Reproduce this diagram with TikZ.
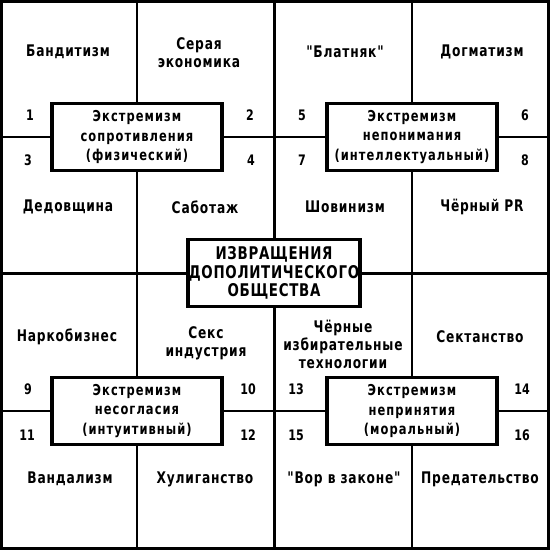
\documentclass[tikz,border=0pt]{standalone}
\usepackage{fontspec}
\newfontfamily\grot{DejaVu Sans Condensed}[FakeStretch=0.85]
\usetikzlibrary{positioning}

\begin{document}
\begin{tikzpicture}[x=1pt, y=-1pt,
  frame/.style={line width=3pt},
  thinline/.style={line width=1.7pt},
  ext/.style={draw, line width=3.5pt, fill=white, minimum width=170pt, minimum height=67pt, align=center, inner sep=1pt, font=\grot\fontsize{15}{19.5}\selectfont\bfseries\addfontfeatures{LetterSpace=7}},
  core/.style={ext, font=\grot\fontsize{17.5}{18.5}\selectfont\bfseries\addfontfeatures{LetterSpace=4}},
  lbl/.style={align=center, font=\grot\fontsize{16}{18}\selectfont\bfseries\addfontfeatures{LetterSpace=5}},
  num/.style={font=\grot\fontsize{14.5}{15}\selectfont\bfseries}
]
\useasboundingbox (0,0) rectangle (550,550);
% grid
\draw[frame] (1.5,1.5) rectangle (548.5,548.5);
\draw[frame] (274,0) -- (274,550) (0,273) -- (550,273);
\draw[thinline] (137,0) -- (137,273) (412,0) -- (412,273)
  (137,273) -- (137,550) (412,273) -- (412,550)
  (0,137) -- (550,137) (0,411) -- (550,411);

% kinds of extremism
\node[ext] (phys) at (137,137) {Экстремизм\\сопротивления\\(физический)};
\node[ext] (intel) at (412,137) {Экстремизм\\непонимания\\(интеллектуальный)};
\node[ext] (intuit) at (137,411) {Экстремизм\\несогласия\\(интуитивный)};
\node[ext] (moral) at (412,411) {Экстремизм\\непринятия\\(моральный)};
\node[core] (perv) at (274,273) {ИЗВРАЩЕНИЯ\\ДОПОЛИТИЧЕСКОГО\\ОБЩЕСТВА};

% top left
\node[lbl] (band) at (68,52) {Бандитизм};
\node[lbl] (grey) at (199,53) {Серая\\экономика};
\node[lbl] (dedov) at (68,207) {Дедовщина};
\node[lbl] (sabot) at (205,207) {Саботаж};
\node[num] (n1) at (30,115) {1};
\node[num] (n2) at (250,115) {2};
\node[num] (n3) at (28,160) {3};
\node[num] (n4) at (251,160) {4};

% top right
\node[lbl] (blat) at (345,52) {"Блатняк"};
\node[lbl] (dogma) at (482,52) {Догматизм};
\node[lbl] (shov) at (345,207) {Шовинизм};
\node[lbl] (blackpr) at (482,207) {Чёрный PR};
\node[num] (n5) at (302,115) {5};
\node[num] (n6) at (525,115) {6};
\node[num] (n7) at (302,160) {7};
\node[num] (n8) at (525,160) {8};

% bottom left
\node[lbl] (narko) at (67,337) {Наркобизнес};
\node[lbl] (sex) at (206,343) {Секс\\индустрия};
\node[lbl] (vandal) at (70,479) {Вандализм};
\node[lbl] (hulig) at (205,479) {Хулиганство};
\node[num] (n9) at (28,389) {9};
\node[num] (n10) at (248,389) {10};
\node[num] (n11) at (27,435) {11};
\node[num] (n12) at (248,435) {12};

% bottom right
\node[lbl] (elect) at (343,344) {Чёрные\\избирательные\\технологии};
\node[lbl] (sekt) at (480,337) {Сектанство};
\node[lbl] (vor) at (344,479) {"Вор в законе"};
\node[lbl] (pred) at (480,479) {Предательство};
\node[num] (n13) at (296,389) {13};
\node[num] (n14) at (522,389) {14};
\node[num] (n15) at (296,435) {15};
\node[num] (n16) at (522,435) {16};
\end{tikzpicture}
\end{document}
